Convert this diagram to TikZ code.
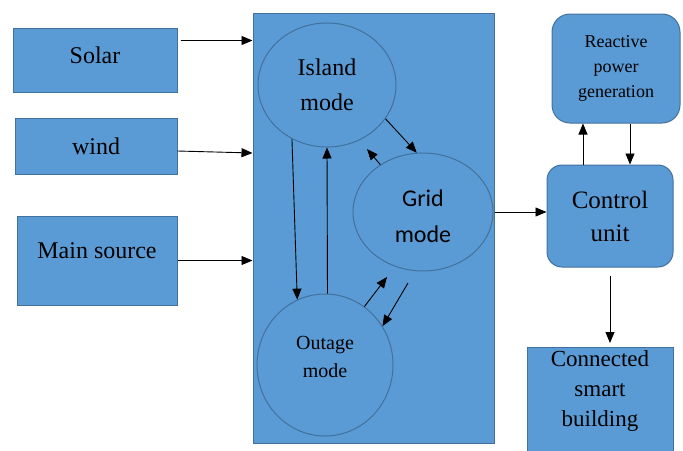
\documentclass[tikz,border=0pt]{standalone}
\usepackage{fontspec}
\setmainfont{Liberation Serif}
\newfontfamily\gridfont{Carlito}
\usetikzlibrary{arrows.meta,shapes.geometric,calc}
\definecolor{boxblue}{HTML}{5B9BD5}
\definecolor{boxline}{HTML}{41719C}
\tikzset{
  blk/.style={draw=boxline, fill=boxblue, line width=1pt, inner sep=0pt, align=center},
  mode/.style={ellipse, draw=boxline, fill=boxblue, line width=1pt, inner sep=0pt, align=center},
  arr/.style={-{Triangle[length=11pt,width=9pt]}, line width=0.9pt},
}

\begin{document}
\begin{tikzpicture}[x=1pt,y=-1pt]
    \useasboundingbox (0,0) rectangle (683,450);
    % sources
    \node[blk, minimum width=164, minimum height=64, text depth=9pt, font=\fontsize{24}{29}\selectfont] (solar) at (95,60) {Solar};
    \node[blk, minimum width=162, minimum height=56, font=\fontsize{24}{29}\selectfont] (wind) at (96,146) {wind};
    \node[blk, minimum width=160, minimum height=89, text depth=20pt, font=\fontsize{24}{29}\selectfont] (mains) at (97,260.5) {Main source};
    % operating modes
    \node[blk, minimum width=241, minimum height=430] (modes) at (373.5,228) {};
    \node[mode, minimum width=138, minimum height=124, font=\fontsize{24}{35}\selectfont] (island) at (327,85) {Island\\mode};
    \node[mode, minimum width=140, minimum height=118] (grid) at (423,212) {};
    \node[align=center, font=\gridfont\fontsize{24}{36}\selectfont] (gridtext) at ([yshift=-4pt]grid.center) {Grid\\mode};
    \node[mode, minimum width=136, minimum height=142] (outage) at (325,365) {};
    \node[align=center, font=\fontsize{20}{28}\selectfont] (outagetext) at ([yshift=8pt]outage.center) {Outage\\mode};
    % control side
    \node[blk, rounded corners=18pt, minimum width=128, minimum height=109, font=\fontsize{18}{25}\selectfont] (react) at (616,68.5) {Reactive\\power\\generation};
    \node[blk, rounded corners=15pt, minimum width=126, minimum height=102, font=\fontsize{25}{33}\selectfont] (ctrl) at (610,216) {Control\\unit};
    \node[blk, minimum width=146, minimum height=106, anchor=north] (bldg) at (600,347) {};
    \node[align=center, font=\fontsize{23}{30}\selectfont, below=0pt] (bldgtext) at (bldg.north) {Connected\\smart\\building};

    \coordinate (s1) at ([xshift=3pt,yshift=-13pt]solar.north east);
    \draw[arr] (s1) -- (s1 -| modes.west);
    \draw[arr] ([yshift=-5pt]wind.east) -- ([yshift=-7pt]wind.east -| modes.west);
    \draw[arr] (mains.east) -- (mains.east -| modes.west);

    \draw[arr] (island.237) -- (outage.113);
    \draw[arr] (outage.88) -- (island.270);
    \draw[arr] (island.330) -- (grid.96);
    \draw[arr] (grid.132) -- ($(island.center)+(40,64)$);
    \draw[arr] (outage.56) -- ($(grid.center)+(-36,65)$);
    \draw[arr] ($(grid.center)+(-15,71)$) -- (outage.34);

    \draw[arr] (grid.east -| modes.east) -- (grid.east -| ctrl.west);
    \draw[arr] ([xshift=-27pt]ctrl.north) -- ([xshift=-33pt]react.south);
    \draw[arr] ([xshift=14pt]react.south) -- ([xshift=20pt]ctrl.north);
    \draw[arr] ([yshift=-8pt]ctrl.south) -- ([yshift=4pt]ctrl.south |- bldg.north);
\end{tikzpicture}
\end{document}
